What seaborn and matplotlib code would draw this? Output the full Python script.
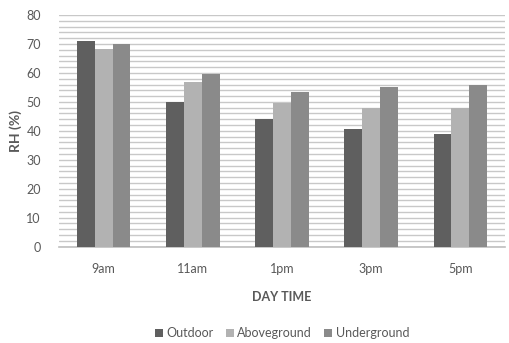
import matplotlib
matplotlib.use("Agg")
import matplotlib.pyplot as plt
import seaborn as sns
import pandas as pd
from matplotlib.ticker import MultipleLocator

times = ["9am", "11am", "1pm", "3pm", "5pm"]
series = ["Outdoor", "Aboveground", "Underground"]
outdoor = [71.0, 49.9, 44.1, 40.5, 38.8]
aboveground = [68.3, 56.9, 49.7, 48.0, 48.0]
underground = [70.0, 59.6, 53.3, 55.2, 55.7]
colors = ["#5f5f5f", "#b2b2b2", "#8a8a8a"]

rows = []
for name, vals in zip(series, [outdoor, aboveground, underground]):
    for t, v in zip(times, vals):
        rows.append({"time": t, "series": name, "RH": v})
df = pd.DataFrame(rows)

sns.set_theme(style="white")
plt.rcParams["font.family"] = ["Lato", "DejaVu Sans"]
text_color = "#595959"

fig = plt.figure(figsize=(5.10, 3.43), dpi=100)
ax = fig.add_axes([0.1157, 0.281, 0.8743, 0.675])
sns.barplot(data=df, x="time", y="RH", hue="series", order=times,
            hue_order=series, palette=colors, width=0.6, ax=ax,
            saturation=1, edgecolor="none", legend=True, zorder=3)

ax.set_ylim(0, 80)
ax.set_xlim(-0.5, 4.5)
ax.yaxis.set_major_locator(MultipleLocator(10))
ax.yaxis.set_minor_locator(MultipleLocator(2))
ax.grid(axis="y", which="both", color="#c8c8c8", linewidth=1.0, zorder=0)
ax.set_axisbelow(True)
for s in ["top", "right", "left"]:
    ax.spines[s].set_visible(False)
ax.spines["bottom"].set_color("#bfbfbf")
ax.spines["bottom"].set_linewidth(1.2)
ax.tick_params(axis="both", which="both", length=0, labelsize=9, colors=text_color)
ax.tick_params(axis="x", pad=12)
ax.tick_params(axis="y", pad=13)
ax.set_ylabel("RH (%)", fontsize=10, fontweight="bold", color=text_color, labelpad=3)
ax.set_xlabel("DAY TIME", fontsize=9, fontweight="bold", color=text_color, labelpad=11)

ax.legend(loc="upper center", bbox_to_anchor=(0.5, -0.30), ncol=3, frameon=False,
          fontsize=9, handlelength=0.65, handleheight=0.65, handletextpad=0.25,
          columnspacing=1.0, labelcolor=text_color)

fig.savefig("out.png", dpi=100)
